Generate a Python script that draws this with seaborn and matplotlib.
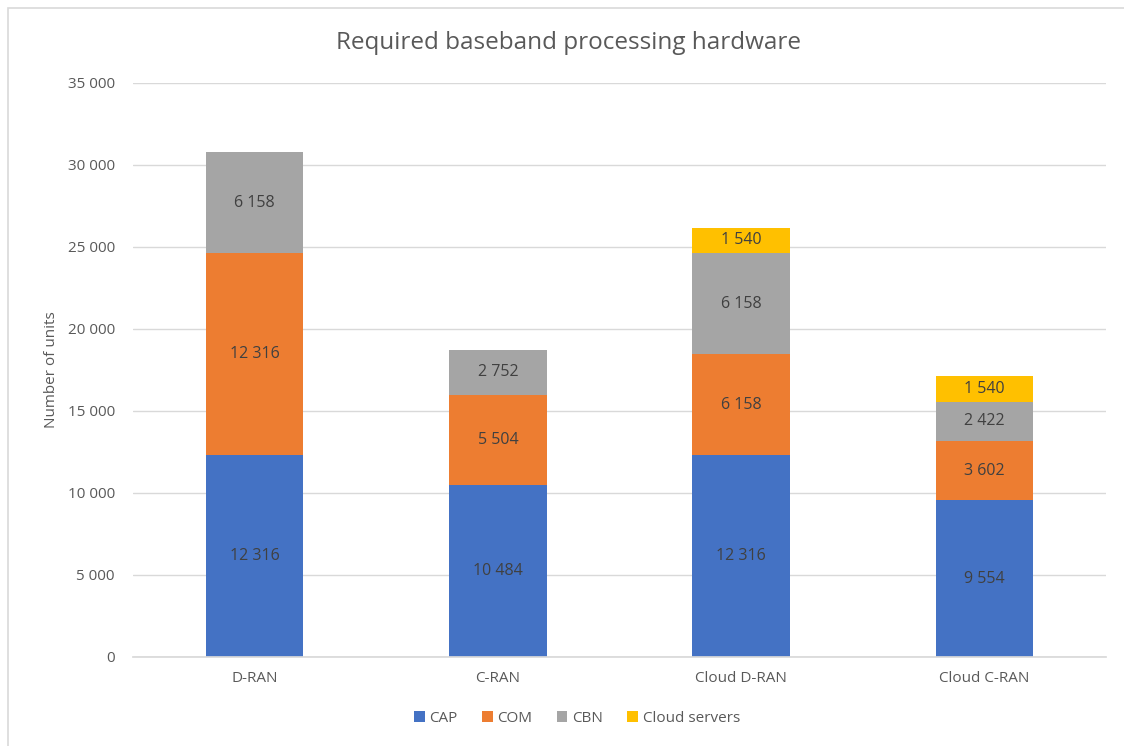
import matplotlib
matplotlib.use("Agg")
import matplotlib.pyplot as plt
import seaborn as sns
import pandas as pd
import numpy as np
from matplotlib.patches import Rectangle

categories = ["D-RAN", "C-RAN", "Cloud D-RAN", "Cloud C-RAN"]
series_names = ["CAP", "COM", "CBN", "Cloud servers"]
cap = [12316, 10484, 12316, 9554]
com = [12316, 5504, 6158, 3602]
cbn = [6158, 2752, 6158, 2422]
cloud = [0, 0, 1540, 1540]
colors = ["#4472C4", "#ED7D31", "#A5A5A5", "#FFC000"]
yticks = [0, 5000, 10000, 15000, 20000, 25000, 30000, 35000]

sns.set_theme(style="white")
plt.rcParams['font.family'] = ['Open Sans', 'DejaVu Sans']

fig = plt.figure(figsize=(11.24, 7.46), dpi=100)
ax = fig.add_axes([133/1124, 1-657/746, (1106-133)/1124, (657-83)/746])

def fmt(v):
    return f"{v:,}".replace(",", " ")

bottom = np.zeros(len(categories))
for name, vals, col in zip(series_names, [cap, com, cbn, cloud], colors):
    df = pd.DataFrame({"cat": categories, "val": vals})
    sns.barplot(data=df, x="cat", y="val", color=col, width=0.4, bottom=bottom,
                ax=ax, label=name, saturation=1, errorbar=None, linewidth=0)
    for i, v in enumerate(vals):
        if v > 0:
            ax.text(i, bottom[i] + v / 2, fmt(v), ha="center", va="center",
                    fontsize=11.5, color="#404040")
    bottom = bottom + np.array(vals)

if ax.get_legend() is not None:
    ax.get_legend().remove()

ax.set_ylim(0, 35000)
ax.set_xlim(-0.5, 3.5)
ax.set_yticks(yticks)
ax.set_yticklabels([fmt(t) for t in yticks], fontsize=11, color="#595959")
ax.tick_params(axis="x", labelsize=11, colors="#595959", length=0, pad=10)
ax.tick_params(axis="y", length=0, pad=13)
ax.yaxis.grid(True, color="#D9D9D9", linewidth=1)
ax.set_axisbelow(True)
for s in ["top", "right", "left"]:
    ax.spines[s].set_visible(False)
ax.spines["bottom"].set_color("#D9D9D9")
ax.set_xlabel("")
ax.set_ylabel("Number of units", fontsize=11, color="#595959", labelpad=6)

fig.text(568/1124, 1-43/746, "Required baseband processing hardware",
         ha="center", va="center", fontsize=17.5, color="#595959")

handles, labels = ax.get_legend_handles_labels()
leg = fig.legend(handles, labels, loc="center", bbox_to_anchor=(577/1124, 1-718/746),
                 ncol=4, frameon=False, fontsize=11, handlelength=0.7, handleheight=0.7,
                 handletextpad=0.3, columnspacing=1.6, labelcolor="#595959")

fig.patches.append(Rectangle((8/1124, -0.1), 1.2, (1-8/746) + 0.1, transform=fig.transFigure,
                             fill=False, edgecolor="#D9D9D9", linewidth=1.2))

fig.savefig("out.png", dpi=100)
